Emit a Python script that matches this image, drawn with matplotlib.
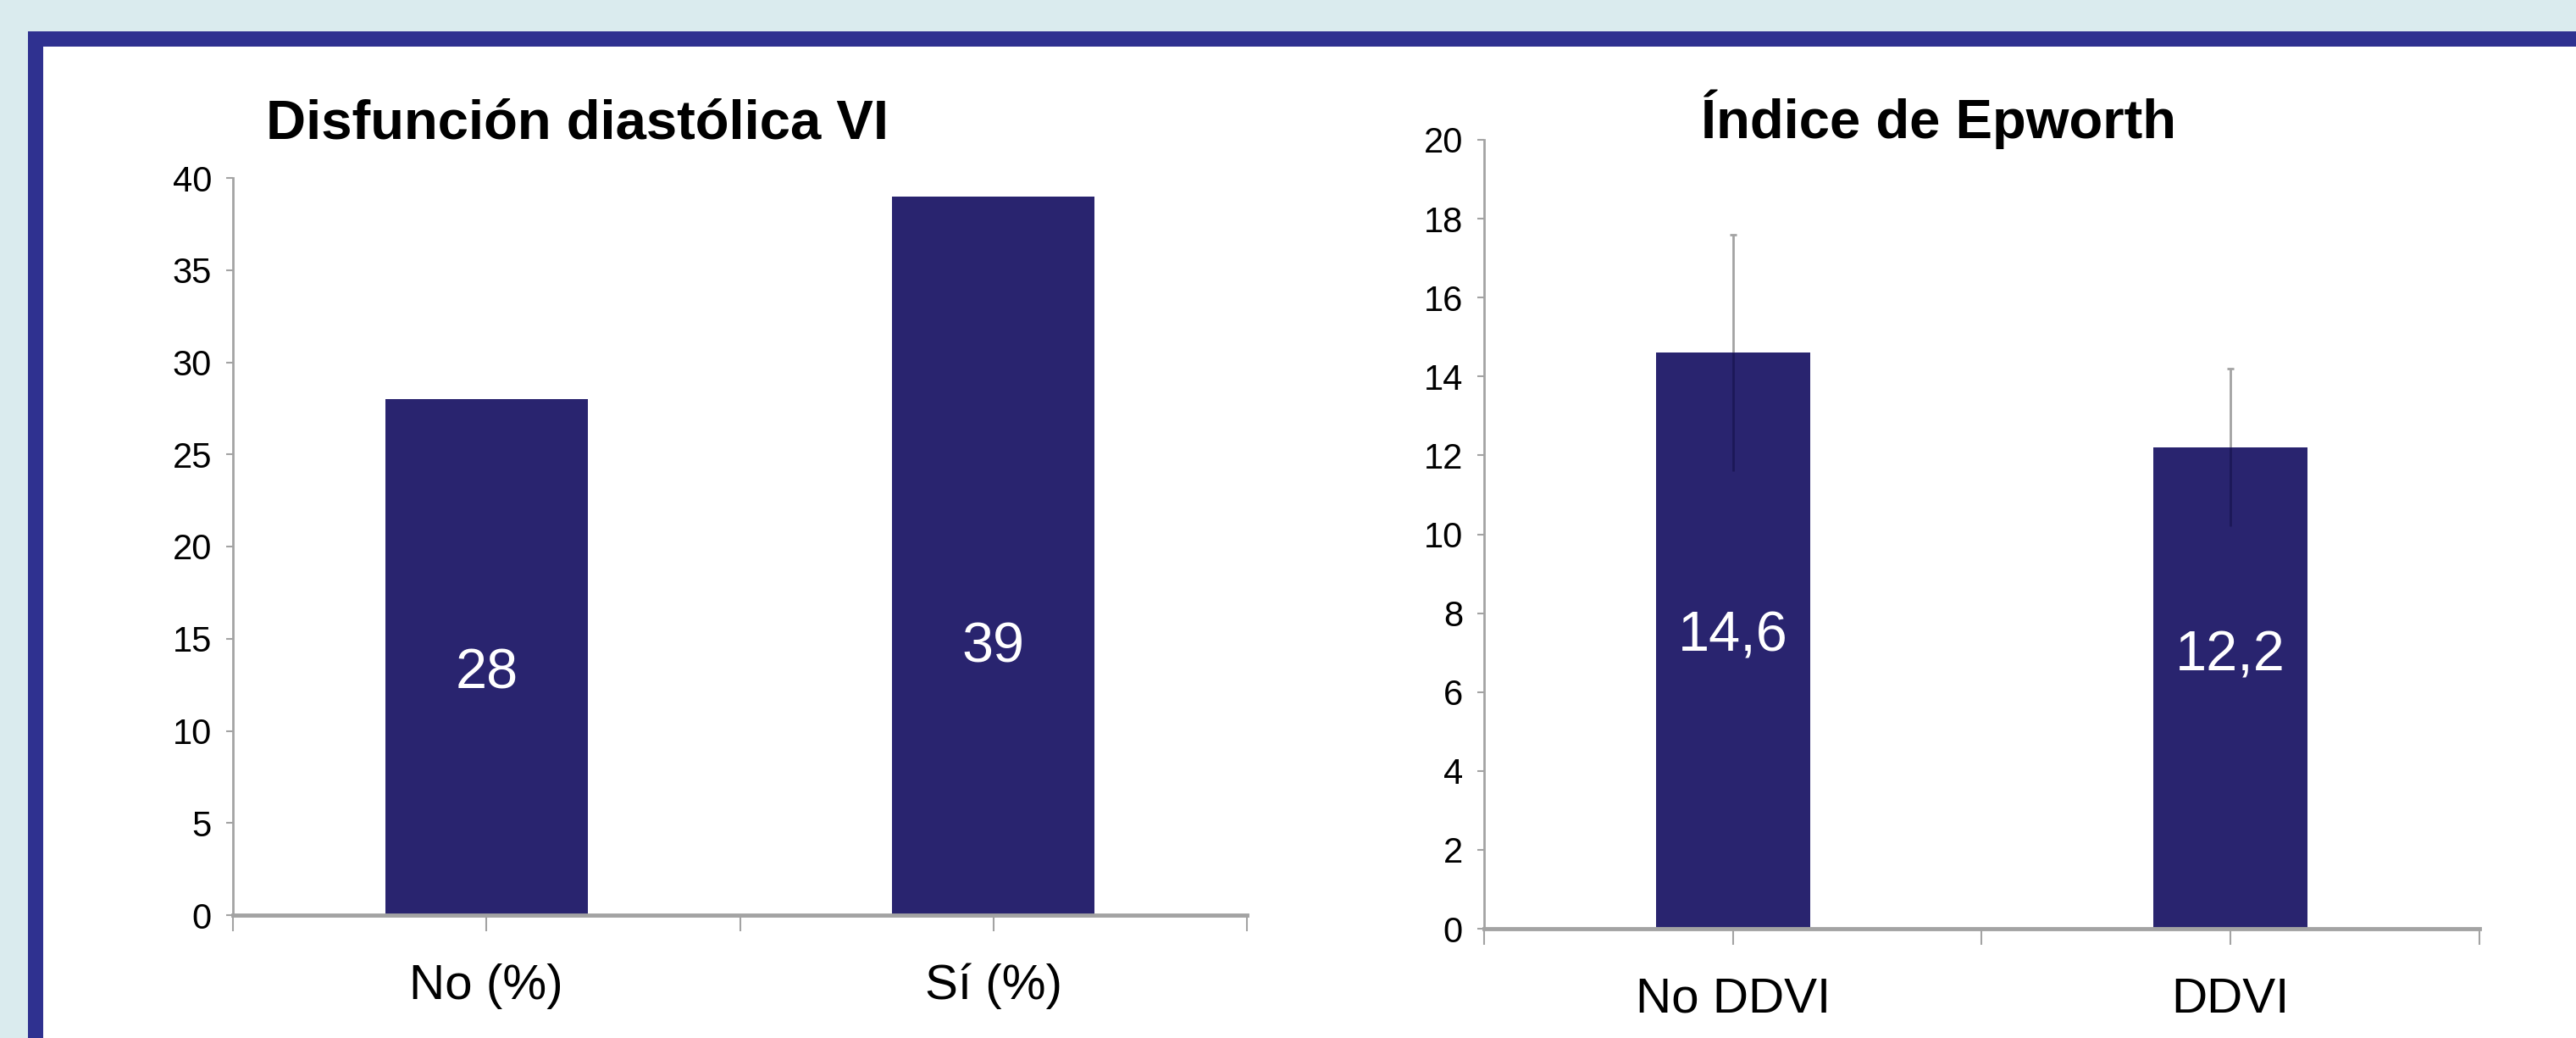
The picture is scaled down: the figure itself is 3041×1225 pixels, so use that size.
import matplotlib
matplotlib.use("Agg")
import matplotlib.pyplot as plt
from matplotlib.patches import Rectangle

# Datos
dd_categorias = ["No (%)", "Sí (%)"]
dd_valores = [28, 39]
dd_pos_etiqueta = [13.1, 14.5]

ep_categorias = ["No DDVI", "DDVI"]
ep_valores = [14.6, 12.2]
ep_errores = [3.0, 2.0]
ep_pos_etiqueta = [7.4, 6.9]

titulo_dd = "Disfunción diastólica VI"
titulo_ep = "Índice de Epworth"

# Colores
FONDO = "#daebee"
MARCO = "#2f3190"
BARRA = "#29246f"
GRIS = "#a3a3a3"

plt.rcParams["font.family"] = ["Liberation Sans", "DejaVu Sans"]

W, H = 3041, 1225
fig = plt.figure(figsize=(W / 100, H / 100), dpi=100)
fig.patch.set_facecolor(FONDO)

# marco azul y panel blanco
fig.add_artist(Rectangle((33 / W, 0), 1, 1 - 37 / H, transform=fig.transFigure,
                         facecolor=MARCO, edgecolor="none", zorder=0))
fig.add_artist(Rectangle((51 / W, 0), 1, 1 - 55 / H, transform=fig.transFigure,
                         facecolor="white", edgecolor="none", zorder=0))


def ejes(rect):
    ax = fig.add_axes(rect)
    ax.set_facecolor("none")
    for lado in ("top", "right"):
        ax.spines[lado].set_visible(False)
    ax.spines["left"].set_color(GRIS)
    ax.spines["left"].set_linewidth(2)
    ax.spines["bottom"].set_color(GRIS)
    ax.spines["bottom"].set_linewidth(3.5)
    ax.set_xlim(0, 4)
    ax.set_xticks([0, 1, 2, 3, 4])
    ax.tick_params(axis="x", direction="out", length=14, width=1.5, color=GRIS,
                   labelsize=42, pad=27)
    ax.tick_params(axis="y", direction="out", length=6, width=1.5, color=GRIS,
                   labelsize=30, pad=12)
    return ax


# Disfunción diastólica
ax1 = ejes([275 / W, 1 - 1080 / H, 1197 / W, 870 / H])
ax1.bar([1, 3], dd_valores, width=0.8, color=BARRA, zorder=2)
ax1.set_ylim(0, 40)
ax1.set_yticks(range(0, 41, 5))
ax1.set_xticklabels([""] + [dd_categorias[0], "", dd_categorias[1]] + [""])
for x, v, y in zip([1, 3], dd_valores, dd_pos_etiqueta):
    ax1.text(x, y, f"{v}", color="white", fontsize=48, ha="center", va="center", zorder=3)
fig.text(681 / W, 1 - 163 / H, titulo_dd, fontsize=47, fontweight="bold",
         ha="center", va="baseline")

# Índice de Epworth
ax2 = ejes([1752 / W, 1 - 1096 / H, 1175 / W, 931 / H])
ax2.bar([1, 3], ep_valores, width=0.62, color=BARRA, zorder=2)
ax2.errorbar([1, 3], ep_valores, yerr=ep_errores, fmt="none", ecolor=GRIS,
             elinewidth=2, capsize=3, capthick=2, zorder=1)
ax2.vlines([1, 3], [v - e for v, e in zip(ep_valores, ep_errores)], ep_valores,
           color="#1c1858", linewidth=2, zorder=2.5)
ax2.set_ylim(0, 20)
ax2.set_yticks(range(0, 21, 2))
ax2.set_xticklabels([""] + [ep_categorias[0], "", ep_categorias[1]] + [""])
for x, v, y in zip([1, 3], ep_valores, ep_pos_etiqueta):
    ax2.text(x, y, f"{v:.1f}".replace(".", ","), color="white", fontsize=48,
             ha="center", va="center", zorder=3)
fig.text(2289 / W, 1 - 163 / H, titulo_ep, fontsize=47, fontweight="bold",
         ha="center", va="baseline")

fig.savefig("out.png", dpi=100, facecolor=fig.get_facecolor())
